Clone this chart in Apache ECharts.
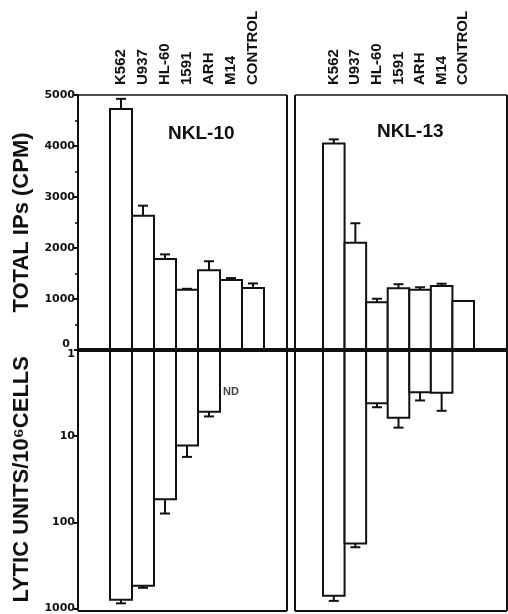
<!DOCTYPE html>
<html>
<head>
<meta charset="utf-8">
<script src="https://cdn.jsdelivr.net/npm/echarts@6/dist/echarts.min.js"></script>
<style>
  html, body { margin: 0; padding: 0; background: #fff; }
  #chart { width: 508px; height: 614px; }
</style>
</head>
<body>
<div id="chart"></div>
<script>
// 细胞系
const categories = ['K562', 'U937', 'HL-60', '1591', 'ARH', 'M14', 'CONTROL']

// 上半部分：TOTAL IPs (CPM)
const ipsNkl10 = [4725, 2630, 1785, 1180, 1565, 1375, 1215]
const ipsErr10 = [200, 200, 90, 20, 175, 35, 90]
const ipsNkl13 = [4050, 2105, 935, 1210, 1180, 1255, 960]
const ipsErr13 = [80, 380, 70, 80, 50, 45, null]

// 下半部分：LYTIC UNITS/10^6 CELLS（对数轴）
const luNkl10 = [790, 545, 54, 12.8, 5.2, null, null]
const luErr10 = [81, 30, 25, 4.6, 0.7, null, null]
const luNkl13 = [670, 168, 4.1, 6.0, 3.05, 3.1, null]
const luErr13 = [95, 17, 0.45, 1.8, 0.75, 1.9, null]

// ND 标注（M14，NKL-10）
const ndLabel = [[5, 3.1]]

const ipsTicks = [0, 1000, 2000, 3000, 4000, 5000]
const luTicks = [1, 10, 100, 1000]

const ink = '#111'
const labelFont = 'Liberation Sans'
const tickFont = 'DejaVu Sans'

// 面板布局
const topY = 95, zeroY = 350, bottomY = 611
const panels = [
  { frameL: 78, frameR: 287, barL: 110, barW: 154 },
  { frameL: 295, frameR: 507, barL: 323, barW: 151 }
]

const seriesData = (vals, errs) => vals.map((v, i) => [i, v, errs[i]])

// 柱子 + 误差棒（相邻柱共用边线）
const renderBar = (baseVal) => (params, api) => {
  const v = api.value(1)
  if (v == null || isNaN(v)) return
  const i = api.value(0)
  const e = api.value(2)
  const p0 = api.coord([i, baseVal])
  const p1 = api.coord([i, v])
  const w = api.size([1, 0])[0]
  const children = [{
    type: 'rect',
    shape: { x: p0[0] - w / 2, y: Math.min(p0[1], p1[1]), width: w, height: Math.abs(p1[1] - p0[1]) },
    style: { fill: '#fff', stroke: ink, lineWidth: 2 }
  }]
  if (e && !isNaN(e)) {
    const p2 = api.coord([i, v + e])
    children.push(
      { type: 'line', shape: { x1: p1[0], y1: p1[1], x2: p2[0], y2: p2[1] }, style: { stroke: ink, lineWidth: 2 } },
      { type: 'line', shape: { x1: p2[0] - 5, y1: p2[1], x2: p2[0] + 5, y2: p2[1] }, style: { stroke: ink, lineWidth: 2 } }
    )
  }
  return { type: 'group', children }
}

const grids = [
  { left: panels[0].barL, width: panels[0].barW, top: topY, height: zeroY - topY },
  { left: panels[1].barL, width: panels[1].barW, top: topY, height: zeroY - topY },
  { left: panels[0].barL, width: panels[0].barW, top: zeroY, height: bottomY - zeroY },
  { left: panels[1].barL, width: panels[1].barW, top: zeroY, height: bottomY - zeroY }
]

const xAxes = grids.map((g, i) => ({
  type: 'category',
  gridIndex: i,
  data: categories,
  position: 'top',
  show: i < 2,
  axisLine: { show: false },
  axisTick: { show: false },
  axisLabel: {
    rotate: 90,
    margin: 10,
    color: ink,
    fontFamily: labelFont,
    fontWeight: 'bold',
    fontSize: 15
  }
}))

const topAxis = (i) => ({
  type: 'value',
  gridIndex: i,
  min: 0,
  max: 5000,
  interval: 1000,
  show: i === 0,
  offset: panels[0].barL - panels[0].frameL,
  name: 'TOTAL IPs (CPM)',
  nameLocation: 'middle',
  nameGap: 45,
  nameTextStyle: { color: ink, fontFamily: labelFont, fontWeight: 'bold', fontSize: 22 },
  axisLine: { show: true, lineStyle: { color: ink, width: 2 } },
  axisTick: { show: true, length: 4, lineStyle: { color: ink, width: 2 } },
  minorTick: { show: true, splitNumber: 2, length: 3, lineStyle: { color: ink, width: 1.5 } },
  splitLine: { show: false },
  axisLabel: {
    margin: 3,
    color: ink,
    fontFamily: tickFont,
    fontWeight: 'bold',
    fontSize: 11,
    formatter: v => (ipsTicks.includes(v) ? (v === 0 ? '{z|0}' : String(v)) : ''),
    rich: { z: { padding: [0, 5, 11, 0], fontFamily: tickFont, fontWeight: 'bold', fontSize: 11, color: ink } }
  }
})

const bottomAxis = (i) => ({
  type: 'log',
  logBase: 10,
  gridIndex: i,
  min: 1,
  max: 1000,
  inverse: true,
  show: i === 2,
  offset: panels[0].barL - panels[0].frameL,
  name: 'LYTIC UNITS/10⁶CELLS',
  nameLocation: 'middle',
  nameGap: 45,
  nameTextStyle: { color: ink, fontFamily: labelFont, fontWeight: 'bold', fontSize: 22 },
  axisLine: { show: true, lineStyle: { color: ink, width: 2 } },
  axisTick: { show: true, length: 4, lineStyle: { color: ink, width: 2 } },
  splitLine: { show: false },
  axisLabel: {
    margin: 3,
    color: ink,
    fontFamily: tickFont,
    fontWeight: 'bold',
    fontSize: 11,
    formatter: v => (luTicks.includes(v) ? (v === 1 ? '{o|1}' : String(v)) : ''),
    rich: { o: { padding: [9, 0, 0, 0], fontFamily: tickFont, fontWeight: 'bold', fontSize: 11, color: ink } }
  }
})

const yAxes = [topAxis(0), topAxis(1), bottomAxis(2), bottomAxis(3)]

const barSeries = (vals, errs, idx, baseVal) => ({
  type: 'custom',
  xAxisIndex: idx,
  yAxisIndex: idx,
  data: seriesData(vals, errs),
  renderItem: renderBar(baseVal),
  clip: false,
  z: 3
})

// 框线和零线
const frameLines = []
panels.forEach(p => {
  frameLines.push(
    { type: 'line', shape: { x1: p.frameL, y1: topY, x2: p.frameR, y2: topY }, style: { stroke: ink, lineWidth: 1.5 } },
    { type: 'line', shape: { x1: p.frameL, y1: bottomY, x2: p.frameR, y2: bottomY }, style: { stroke: ink, lineWidth: 2 } },
    { type: 'line', shape: { x1: p.frameL, y1: topY, x2: p.frameL, y2: bottomY }, style: { stroke: ink, lineWidth: 2 } },
    { type: 'line', shape: { x1: p.frameR, y1: topY, x2: p.frameR, y2: bottomY }, style: { stroke: ink, lineWidth: 2 } }
  )
})
frameLines.push({
  type: 'line',
  z: 10,
  shape: { x1: panels[0].frameL, y1: zeroY, x2: 508, y2: zeroY },
  style: { stroke: ink, lineWidth: 4 }
})

const chart = echarts.init(document.getElementById('chart'))
chart.setOption({
  backgroundColor: '#fff',
  animation: false,
  title: [
    { text: 'NKL-10', left: 163, top: 119, textStyle: { color: ink, fontFamily: labelFont, fontWeight: 'bold', fontSize: 19 } },
    { text: 'NKL-13', left: 372, top: 117, textStyle: { color: ink, fontFamily: labelFont, fontWeight: 'bold', fontSize: 19 } }
  ],
  grid: grids,
  xAxis: xAxes,
  yAxis: yAxes,
  graphic: frameLines,
  series: [
    barSeries(ipsNkl10, ipsErr10, 0, 0),
    barSeries(ipsNkl13, ipsErr13, 1, 0),
    barSeries(luNkl10, luErr10, 2, 1),
    barSeries(luNkl13, luErr13, 3, 1),
    {
      type: 'scatter',
      xAxisIndex: 2,
      yAxisIndex: 2,
      data: ndLabel,
      symbolSize: 0,
      label: {
        show: true,
        position: 'inside',
        formatter: 'ND',
        color: ink,
        fontFamily: labelFont,
        fontWeight: 'bold',
        fontSize: 11
      }
    }
  ]
})
</script>
</body>
</html>
